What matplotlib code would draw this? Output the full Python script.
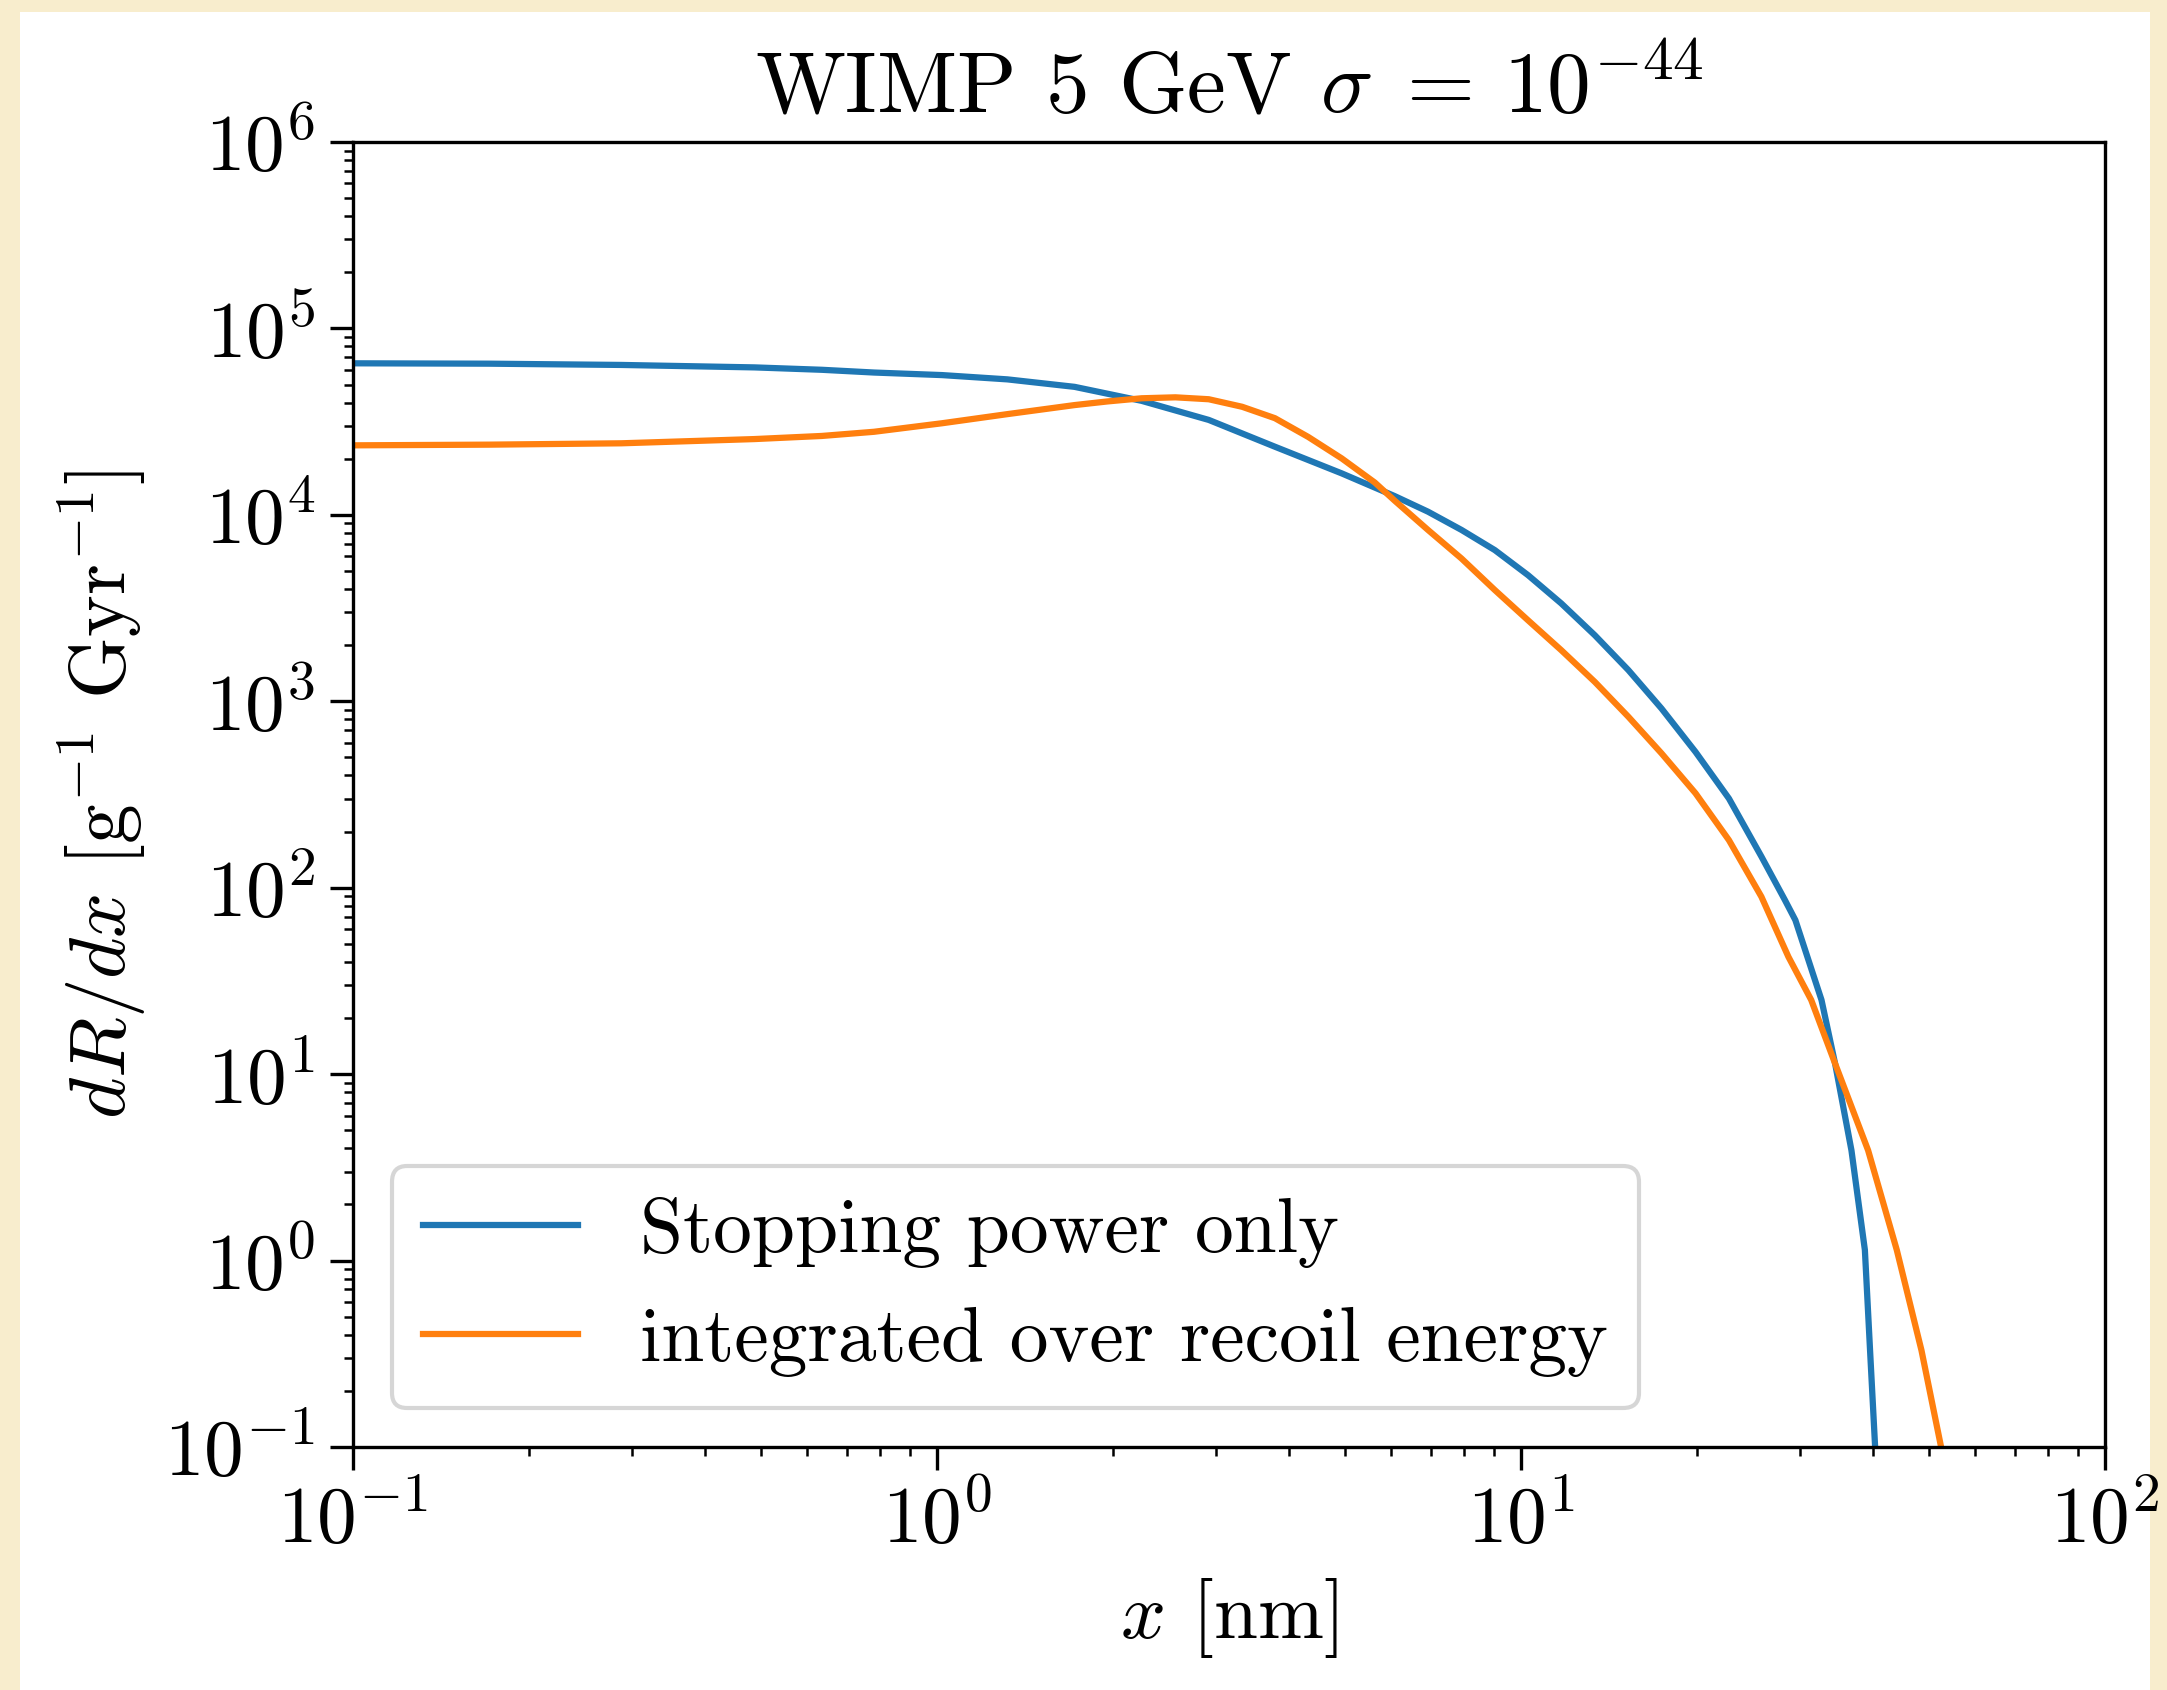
import matplotlib
matplotlib.use('Agg')
import matplotlib.pyplot as plt
from matplotlib.patches import Rectangle

plt.rcParams['font.family'] = 'serif'
plt.rcParams['font.serif'] = ['cmr10']
plt.rcParams['mathtext.fontset'] = 'cm'
plt.rcParams['axes.formatter.use_mathtext'] = True
plt.rcParams['axes.unicode_minus'] = False

# values (x in nm, dR/dx in g^-1 Gyr^-1)
stopping_x = [0.1, 0.171, 0.288, 0.487, 0.635, 0.78, 1.02, 1.32, 1.72, 2.24, 2.92, 3.79, 4.93,
              6.08, 6.93, 7.91, 9.02, 10.28, 11.72, 13.38, 15.27, 17.4, 19.9, 22.7, 25.8, 28.3, 29.5,
              32.7, 34.5, 36.8, 38.8, 39.6, 40.4, 40.7]
stopping_y = [6.5e4, 6.47e4, 6.37e4, 6.18e4, 6.0e4, 5.8e4, 5.62e4, 5.33e4, 4.86e4, 4.09e4, 3.23e4, 2.32e4, 1.67e4,
              1.26e4, 1.04e4, 8.3e3, 6.47e3, 4.75e3, 3.35e3, 2.26e3, 1.47e3, 915, 535, 301, 147, 86, 67,
              25, 11.4, 3.9, 1.14, 0.33, 0.1, 0.01]

recoil_x = [0.1, 0.171, 0.288, 0.487, 0.635, 0.78, 1.02, 1.32, 1.72, 1.96, 2.24, 2.56, 2.92, 3.33,
            3.79, 4.32, 4.93, 5.62, 6.08, 6.93, 7.91, 9.02, 10.28, 11.72, 13.38, 15.27, 17.4,
            19.9, 22.7, 25.8, 28.7, 31.4, 34.5, 39.3, 44.0, 48.5, 52.4, 55.0]
recoil_y = [2.36e4, 2.38e4, 2.42e4, 2.55e4, 2.65e4, 2.79e4, 3.10e4, 3.47e4, 3.88e4, 4.06e4, 4.22e4, 4.27e4, 4.17e4, 3.80e4,
            3.30e4, 2.62e4, 2.01e4, 1.49e4, 1.19e4, 8.3e3, 5.83e3, 3.95e3, 2.72e3, 1.88e3, 1.27e3, 826, 526,
            321, 180, 89.5, 42.6, 25, 11.4, 3.9, 1.14, 0.33, 0.1, 0.04]

W, H, DPI = 2167, 1690, 300
fig = plt.figure(figsize=(W / DPI, H / DPI), dpi=DPI)
fig.patch.set_facecolor('#f8edcd')
fig.patches.append(Rectangle((20 / W, 0), 2130 / W, 1 - 12 / H, transform=fig.transFigure,
                             facecolor='white', edgecolor='none', zorder=-1))

ax = fig.add_axes([353 / W, 1 - 1447 / H, (2105 - 353) / W, (1447 - 142) / H])
ax.plot(stopping_x, stopping_y, color='#1f77b4', lw=1.5, label='Stopping power only')
ax.plot(recoil_x, recoil_y, color='#ff7f0e', lw=1.5, label='integrated over recoil energy')

ax.set_xscale('log')
ax.set_yscale('log')
ax.set_xlim(0.1, 100)
ax.set_ylim(0.1, 1e6)

ax.tick_params(which='major', labelsize=19, length=5.5)
ax.tick_params(which='minor', length=2.2)
ax.set_xlabel(r'$x$ [nm]', fontsize=19)
ax.set_ylabel(r'$dR/dx$ [g$^{-1}$ Gyr$^{-1}$]', fontsize=19)
ax.set_title(r'WIMP 5 GeV $\sigma\;=\,10^{-44}$', fontsize=21, pad=7)
ax.legend(loc='lower left', fontsize=18.6)

fig.savefig('out.png', dpi=DPI, facecolor=fig.get_facecolor())
